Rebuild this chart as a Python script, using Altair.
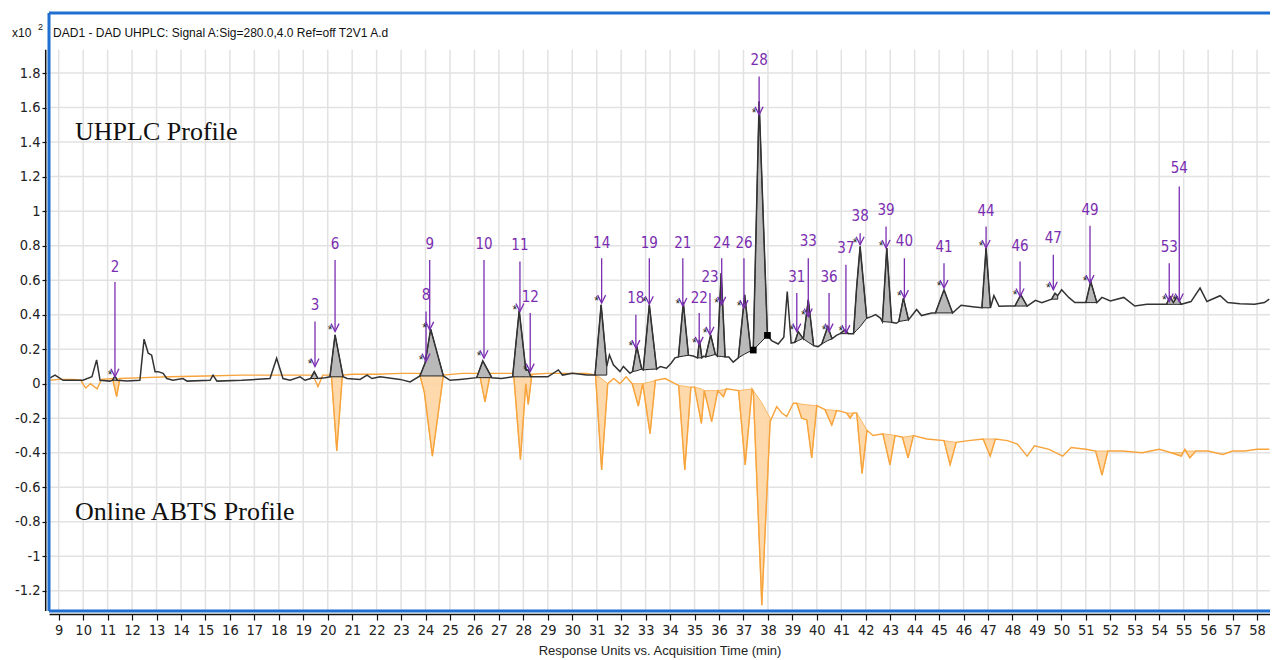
import altair as alt
import pandas as pd

# ---------------- plot ranges (data units) ----------------
X0, X1 = 8.603, 58.53
Y0, Y1 = -1.317, 2.148
GRID_TOP = 1.935

x_ticks = list(range(9, 59))
y_ticks = [1.8, 1.6, 1.4, 1.2, 1, 0.8, 0.6, 0.4, 0.2, 0, -0.2, -0.4, -0.6, -0.8, -1, -1.2]

# ---------------- UHPLC trace (black) ----------------
black_t = [8.6, 8.65, 8.85, 9.18, 9.99, 10.36, 10.55, 10.69, 11.1, 11.2, 11.3, 11.4, 11.79, 12.32, 12.49, 12.66,
           12.8, 12.94, 13.06, 13.27, 13.42, 13.67, 14.08, 14.25, 15.19, 15.31, 15.47, 16.5, 17.64, 17.91, 18.17,
           18.46, 18.87, 19.07, 19.3, 19.45, 19.6, 19.9, 20.09, 20.3, 20.63, 20.79, 21.32, 21.61, 21.81, 22.14,
           22.96, 23.37, 23.77, 23.98, 24.21, 24.73, 25.0, 25.41, 26.09, 26.34, 26.71, 27.1, 27.56, 27.83, 28.1,
           28.2, 28.3, 29.0, 29.43, 29.6, 30.0, 30.6, 30.93, 31.18, 31.41, 31.52, 31.68, 31.95, 32.09, 32.36,
           32.46, 32.64, 32.84, 32.9, 33.15, 33.45, 33.6, 33.85, 34.05, 34.2, 34.34, 34.54, 34.75, 34.95, 35.12,
           35.2, 35.3, 35.38, 35.45, 35.66, 35.85, 35.93, 36.09, 36.25, 36.4, 36.58, 36.79, 37.05, 37.3, 37.4,
           37.64, 37.98, 38.15, 38.42, 38.65, 38.79, 38.95, 39.1, 39.24, 39.4, 39.45, 39.65, 39.87, 40.05, 40.2,
           40.45, 40.62, 40.8, 40.95, 41.15, 41.3, 41.5, 41.63, 41.77, 42.04, 42.25, 42.4, 42.6, 42.68, 42.86,
           43.06, 43.25, 43.35, 43.54, 43.75, 44.08, 44.28, 44.7, 44.85, 45.2, 45.55, 45.9, 46.45, 46.75, 46.92,
           47.1, 47.24, 47.45, 47.8, 48.1, 48.34, 48.6, 48.94, 49.2, 49.6, 49.74, 49.85, 50.01, 50.3, 50.55,
           51.0, 51.2, 51.45, 51.66, 52.0, 52.55, 53.0, 53.5, 54.3, 54.44, 54.58, 54.72, 54.9, 55.3, 55.67,
           55.95, 56.49, 56.8, 57.3, 57.9, 58.3, 58.5]
black_v = [0.03, 0.034, 0.05, 0.02, 0.02, 0.04, 0.138, 0.02, 0.015, 0.02, 0.045, 0.02, 0.015, 0.02, 0.258, 0.177,
           0.165, 0.07, 0.07, 0.06, 0.03, 0.02, 0.03, 0.015, 0.02, 0.05, 0.015, 0.02, 0.03, 0.148, 0.03,
           0.02, 0.04, 0.02, 0.03, 0.07, 0.03, 0.035, 0.04, 0.283, 0.04, 0.03, 0.025, 0.05, 0.03, 0.04,
           0.025, 0.01, 0.045, 0.12, 0.316, 0.045, 0.02, 0.025, 0.035, 0.132, 0.035, 0.03, 0.04, 0.424, 0.08,
           0.08, 0.04, 0.04, 0.08, 0.05, 0.06, 0.05, 0.05, 0.457, 0.1, 0.167, 0.11, 0.07, 0.1, 0.06,
           0.07, 0.215, 0.085, 0.08, 0.457, 0.085, 0.1, 0.09, 0.12, 0.15, 0.155, 0.47, 0.165, 0.16, 0.15,
           0.254, 0.15, 0.16, 0.155, 0.283, 0.17, 0.16, 0.64, 0.155, 0.155, 0.125, 0.15, 0.515, 0.19, 0.195,
           1.635, 0.28, 0.25, 0.23, 0.27, 0.534, 0.235, 0.24, 0.302, 0.27, 0.26, 0.486, 0.22, 0.215, 0.23,
           0.331, 0.26, 0.28, 0.29, 0.312, 0.29, 0.29, 0.563, 0.795, 0.38, 0.39, 0.4, 0.38, 0.36, 0.786,
           0.356, 0.35, 0.36, 0.496, 0.37, 0.43, 0.395, 0.41, 0.41, 0.544, 0.41, 0.455, 0.445, 0.44, 0.786,
           0.44, 0.51, 0.449, 0.45, 0.45, 0.515, 0.45, 0.483, 0.47, 0.49, 0.525, 0.51, 0.544, 0.5, 0.47,
           0.47, 0.592, 0.47, 0.5, 0.48, 0.5, 0.45, 0.46, 0.46, 0.505, 0.47, 0.505, 0.46, 0.476, 0.554,
           0.476, 0.51, 0.47, 0.464, 0.46, 0.47, 0.49]

# ---------------- Online ABTS trace (orange) ----------------
orange_t = [8.6, 9.0, 9.6, 9.9, 10.1, 10.3, 10.57, 10.75, 11.2, 11.37, 11.5, 12.5, 13.5, 15.0, 16.5, 18.5, 19.4,
            19.6, 19.8, 20.15, 20.37, 20.6, 21.0, 22.0, 23.0, 23.75, 23.95, 24.28, 24.73, 25.5, 26.2, 26.43,
            26.65, 27.6, 27.88, 28.1, 28.2, 28.35, 29.0, 30.0, 30.6, 30.95, 31.2, 31.45, 31.7, 31.95, 32.2,
            32.45, 32.7, 32.88, 33.18, 33.4, 33.8, 34.2, 34.35, 34.6, 34.85, 35.0, 35.28, 35.4, 35.7, 35.95,
            36.18, 36.3, 36.8, 37.07, 37.35, 37.4, 37.75, 38.09, 38.36, 38.57, 38.77, 39.04, 39.18, 39.38,
            39.59, 39.79, 40.0, 40.33, 40.61, 40.81, 41.0, 41.22, 41.36, 41.5, 41.63, 41.85, 42.05, 42.3,
            42.7, 42.99, 43.2, 43.5, 43.73, 43.95, 44.5, 45.2, 45.45, 45.7, 46.2, 46.8, 47.09, 47.3, 47.8,
            48.2, 48.6, 48.9, 49.5, 50.05, 50.4, 51.0, 51.4, 51.66, 51.9, 52.5, 53.3, 54.0, 54.5, 54.9,
            55.05, 55.25, 55.5, 56.0, 56.6, 57.0, 57.5, 58.0, 58.5]
orange_v = [0.02, 0.025, 0.025, 0.02, -0.025, 0.0, -0.03, 0.025, 0.03, -0.075, 0.03, 0.035, 0.04, 0.045, 0.05,
            0.05, 0.05, -0.017, 0.05, 0.05, -0.39, 0.05, 0.055, 0.055, 0.06, 0.06, -0.05, -0.42, 0.05, 0.06,
            0.06, -0.105, 0.06, 0.06, -0.44, 0.0, -0.12, 0.055, 0.06, 0.06, 0.06, 0.05, -0.5, 0.0, 0.03, 0.0,
            0.04, 0.0, -0.13, 0.0, -0.29, 0.02, 0.03, 0.0, -0.01, -0.5, -0.02, -0.02, -0.23, -0.04, -0.22,
            -0.04, -0.075, -0.03, -0.04, -0.47, -0.03, -0.04, -1.283, -0.22, -0.133, -0.17, -0.19, -0.113,
            -0.113, -0.2, -0.21, -0.43, -0.127, -0.15, -0.24, -0.155, -0.16, -0.17, -0.2, -0.17, -0.17, -0.52,
            -0.27, -0.3, -0.29, -0.47, -0.3, -0.31, -0.43, -0.3, -0.32, -0.33, -0.47, -0.34, -0.33, -0.32,
            -0.42, -0.32, -0.33, -0.35, -0.42, -0.36, -0.38, -0.42, -0.37, -0.38, -0.39, -0.53, -0.39, -0.39,
            -0.4, -0.38, -0.4, -0.42, -0.38, -0.43, -0.39, -0.39, -0.41, -0.39, -0.39, -0.38, -0.38]

# ---------------- integrated UHPLC peaks (gray fills) ----------------
gray_peak = ["2", "3", "6", "9", "10", "11", "14", "18", "19", "21", "22", "23", "24", "26", "28",
             "31", "33", "36", "37", "38", "39", "40", "41", "44", "46", "47", "49", "53"]
gray_count = [3, 3, 3, 4, 3, 5, 3, 3, 3, 3, 3, 3, 3, 3, 3, 3, 3, 3, 3, 4, 3, 3, 3, 3, 3, 3, 3, 5]
gray_t = [11.2, 11.3, 11.4, 19.3, 19.45, 19.6, 20.09, 20.3, 20.63, 23.77, 23.98, 24.21, 24.73,
          26.09, 26.34, 26.71, 27.56, 27.83, 28.1, 28.2, 28.3, 30.93, 31.18, 31.41,
          32.46, 32.64, 32.84, 32.9, 33.15, 33.45, 34.34, 34.54, 34.75, 35.12, 35.2, 35.3,
          35.45, 35.66, 35.85, 35.93, 36.09, 36.25, 36.79, 37.05, 37.3, 37.4, 37.64, 37.98,
          39.1, 39.24, 39.4, 39.45, 39.65, 39.87, 40.2, 40.45, 40.62, 40.95, 41.15, 41.3,
          41.5, 41.63, 41.77, 42.04, 42.68, 42.86, 43.06, 43.35, 43.54, 43.75, 44.85, 45.2, 45.55,
          46.75, 46.92, 47.1, 48.1, 48.34, 48.6, 49.6, 49.74, 49.85, 51.0, 51.2, 51.45,
          54.3, 54.44, 54.58, 54.72, 54.9]
gray_v = [0.02, 0.045, 0.02, 0.03, 0.07, 0.03, 0.04, 0.283, 0.04, 0.045, 0.12, 0.316, 0.045,
          0.035, 0.132, 0.035, 0.04, 0.424, 0.08, 0.08, 0.04, 0.05, 0.457, 0.1,
          0.07, 0.215, 0.085, 0.08, 0.457, 0.085, 0.155, 0.47, 0.165, 0.15, 0.254, 0.15,
          0.155, 0.283, 0.17, 0.16, 0.64, 0.155, 0.15, 0.515, 0.19, 0.195, 1.635, 0.28,
          0.24, 0.302, 0.27, 0.26, 0.486, 0.22, 0.23, 0.331, 0.26, 0.29, 0.312, 0.29,
          0.29, 0.563, 0.795, 0.38, 0.36, 0.786, 0.356, 0.36, 0.496, 0.37, 0.41, 0.544, 0.41,
          0.44, 0.786, 0.44, 0.45, 0.515, 0.45, 0.49, 0.525, 0.51, 0.47, 0.592, 0.47,
          0.46, 0.505, 0.47, 0.505, 0.46]
gray_b = [0.02, 0.02, 0.02, 0.03, 0.03, 0.03, 0.04, 0.04, 0.04, 0.045, 0.045, 0.045, 0.045,
          0.035, 0.035, 0.035, 0.04, 0.04, 0.04, 0.04, 0.04, 0.05, 0.05, 0.05,
          0.07, 0.075, 0.085, 0.08, 0.083, 0.085, 0.155, 0.16, 0.165, 0.15, 0.15, 0.15,
          0.155, 0.162, 0.17, 0.16, 0.158, 0.155, 0.15, 0.172, 0.19, 0.195, 0.23, 0.28,
          0.24, 0.25, 0.26, 0.26, 0.24, 0.22, 0.23, 0.25, 0.26, 0.29, 0.29, 0.29,
          0.29, 0.31, 0.33, 0.38, 0.36, 0.358, 0.356, 0.36, 0.365, 0.37, 0.41, 0.41, 0.41,
          0.44, 0.44, 0.44, 0.45, 0.45, 0.45, 0.49, 0.49, 0.49, 0.47, 0.47, 0.47,
          0.46, 0.46, 0.46, 0.46, 0.46]

# ---------------- integrated ABTS dips (orange fills) ----------------
orng_peak = ["2", "6", "9", "10", "11", "14", "18", "19", "21", "22", "23", "24", "26", "28",
             "33", "36", "37", "38", "39", "40", "41", "44", "49", "53"]
orng_count = [3, 3, 4, 3, 5, 3, 3, 3, 3, 3, 3, 3, 3, 3, 5, 3, 3, 3, 3, 3, 3, 3, 3, 5]
orng_t = [11.2, 11.37, 11.5, 20.15, 20.37, 20.6, 23.75, 23.95, 24.28, 24.73, 26.2, 26.43, 26.65,
          27.6, 27.88, 28.1, 28.2, 28.35, 30.95, 31.2, 31.45, 32.45, 32.7, 32.88, 32.88, 33.18, 33.4,
          34.35, 34.6, 34.85, 35.0, 35.28, 35.4, 35.4, 35.7, 35.95, 35.95, 36.18, 36.3,
          36.8, 37.07, 37.35, 37.4, 37.75, 38.09, 39.18, 39.38, 39.59, 39.79, 40.0,
          40.33, 40.61, 40.81, 41.22, 41.36, 41.5, 41.63, 41.85, 42.05, 42.7, 42.99, 43.2,
          43.5, 43.73, 43.95, 45.2, 45.45, 45.7, 46.8, 47.09, 47.3, 51.4, 51.66, 51.9,
          54.5, 54.9, 55.05, 55.25, 55.5]
orng_v = [0.03, -0.075, 0.03, 0.05, -0.39, 0.05, 0.06, -0.05, -0.42, 0.05, 0.06, -0.105, 0.06,
          0.06, -0.44, 0.0, -0.12, 0.055, 0.05, -0.5, 0.0, 0.0, -0.13, 0.0, 0.0, -0.29, 0.02,
          -0.01, -0.5, -0.02, -0.02, -0.23, -0.04, -0.04, -0.22, -0.04, -0.04, -0.075, -0.03,
          -0.04, -0.47, -0.03, -0.04, -1.283, -0.22, -0.113, -0.2, -0.21, -0.43, -0.127,
          -0.15, -0.24, -0.155, -0.17, -0.2, -0.17, -0.17, -0.52, -0.27, -0.29, -0.47, -0.3,
          -0.31, -0.43, -0.3, -0.33, -0.47, -0.34, -0.32, -0.42, -0.32, -0.39, -0.53, -0.39,
          -0.4, -0.42, -0.38, -0.43, -0.39]
orng_b = [0.03, 0.03, 0.03, 0.05, 0.05, 0.05, 0.06, 0.058, 0.055, 0.05, 0.06, 0.06, 0.06,
          0.06, 0.06, 0.058, 0.057, 0.055, 0.05, 0.03, 0.0, 0.0, 0.0, 0.0, 0.0, 0.01, 0.02,
          -0.01, -0.015, -0.02, -0.02, -0.03, -0.04, -0.04, -0.04, -0.04, -0.04, -0.035, -0.03,
          -0.04, -0.035, -0.03, -0.04, -0.11, -0.2, -0.113, -0.118, -0.122, -0.125, -0.127,
          -0.15, -0.153, -0.155, -0.17, -0.17, -0.17, -0.17, -0.22, -0.27, -0.29, -0.295, -0.3,
          -0.31, -0.305, -0.3, -0.33, -0.335, -0.34, -0.32, -0.32, -0.32, -0.39, -0.39, -0.39,
          -0.4, -0.4, -0.39, -0.39, -0.39]

# ---------------- integration markers on peak 28 ----------------
marker_t = [37.4, 37.98]
marker_v = [0.195, 0.28]

# ---------------- peak labels ----------------
label_text = ["2", "3", "6", "8", "9", "10", "11", "12", "14", "18", "19", "21", "22", "23", "24", "26", "28",
              "31", "33", "36", "37", "38", "39", "40", "41", "44", "46", "47", "49", "53", "54"]
label_t = [11.30, 19.48, 20.30, 24.02, 24.17, 26.39, 27.86, 28.28, 31.20, 32.60, 33.15, 34.52, 35.19, 35.63,
           36.11, 37.02, 37.64, 39.18, 39.65, 40.50, 41.19, 41.77, 42.83, 43.58, 45.20, 46.92, 48.31, 49.67,
           51.17, 54.41, 54.82]
label_v = [0.675, 0.457, 0.81, 0.515, 0.81, 0.81, 0.805, 0.505, 0.818, 0.496, 0.818, 0.818, 0.496, 0.621,
           0.818, 0.818, 1.877, 0.621, 0.824, 0.621, 0.786, 0.973, 1.008, 0.828, 0.791, 0.998, 0.799, 0.843,
           1.008, 0.791, 1.249]
arrow_top = [0.59, 0.36, 0.717, 0.418, 0.717, 0.717, 0.708, 0.409, 0.727, 0.4, 0.727, 0.727, 0.409, 0.525,
             0.727, 0.727, 1.78, 0.525, 0.727, 0.525, 0.689, 0.872, 0.911, 0.727, 0.698, 0.911, 0.708, 0.747,
             0.915, 0.698, 1.143]
arrow_bot = [0.04, 0.1, 0.302, 0.128, 0.312, 0.148, 0.418, 0.07, 0.467, 0.206, 0.46, 0.45, 0.225, 0.283,
             0.457, 0.438, 1.558, 0.302, 0.389, 0.302, 0.293, 0.805, 0.786, 0.496, 0.554, 0.786, 0.505, 0.544,
             0.583, 0.476, 0.476]

# ---------------- texts ----------------
header_text = "DAD1 - DAD UHPLC: Signal A:Sig=280.0,4.0  Ref=off T2V1 A.d"
profile_text = ["UHPLC Profile", "Online ABTS Profile"]
profile_t = [9.667, 9.667]
profile_v = [1.46, -0.743]

# ================= build tables =================
def expand(ids, counts):
    out = []
    for i, c in zip(ids, counts):
        out += [i] * c
    return out

black_df = pd.DataFrame({"t": black_t, "v": black_v})
orange_df = pd.DataFrame({"t": orange_t, "v": orange_v})
gray_df = pd.DataFrame({"id": expand(gray_peak, gray_count), "t": gray_t, "v": gray_v, "b": gray_b})
orng_df = pd.DataFrame({"id": expand(orng_peak, orng_count), "t": orng_t, "v": orng_v, "b": orng_b})
marker_df = pd.DataFrame({"t": marker_t, "v": marker_v})
label_df = pd.DataFrame({"lab": label_text, "t": label_t, "v": label_v, "top": arrow_top, "bot": arrow_bot})
xgrid_df = pd.DataFrame({"t": x_ticks})
ygrid_df = pd.DataFrame({"v": y_ticks})
profile_df = pd.DataFrame({"txt": profile_text, "t": profile_t, "v": profile_v})
frame_df = pd.DataFrame({"x0": [X0], "x1": [X1], "y0": [Y0], "y1": [Y1], "gt": [GRID_TOP], "ax": [X0 - 0.135]})
corner_df = pd.DataFrame({"txt": ["x10", "2", header_text], "t": [7.09, 8.15, 8.77], "v": [2.03, 2.065, 2.034]})

COND = "'DejaVu Sans Condensed', 'Liberation Sans', sans-serif"
SANS = "'Liberation Sans', Arial, sans-serif"
PURPLE = "#7a2db0"
ORANGE = "#f8a43c"
BLUE = "#1f6fd1"

xs = alt.Scale(domain=[X0, X1], nice=False, zero=False)
ys = alt.Scale(domain=[Y0, Y1], nice=False, zero=False)

AX = alt.Axis(values=x_ticks, labelFont=COND, labelFontSize=14.5, labelColor="#222",
              tickColor="#111", tickSize=6, tickWidth=1.2, domainColor="#111", domainWidth=1.5,
              offset=3, grid=False, labelPadding=3, labelFlush=False,
              title="Response Units vs. Acquisition Time (min)", titleFont=SANS,
              titleFontSize=13, titleFontWeight="normal", titleColor="#222", titlePadding=8)
AY = alt.Axis(values=y_ticks, labelExpr="'' + datum.value", labelFont=COND, labelFontSize=14.5,
              labelColor="#222", tickColor="#111", tickSize=4, tickWidth=1.2, domain=False,
              offset=3, grid=False, labelPadding=2, title=None)


def X(f="t:Q"):
    return alt.X(f, scale=xs, axis=AX)


def Y(f="v:Q"):
    return alt.Y(f, scale=ys, axis=AY)


# gridlines
vgrid = alt.Chart(xgrid_df).mark_rule(color="#e2e2e2", strokeWidth=1.5).encode(
    x=X(), y=Y("gt:Q"), y2="y0:Q").transform_calculate(gt=str(GRID_TOP), y0=str(Y0))
hgrid = alt.Chart(ygrid_df).mark_rule(color="#e2e2e2", strokeWidth=1.5).encode(
    y=Y(), x=X("x0:Q"), x2="x1:Q").transform_calculate(x0=str(X0), x1=str(X1))

# frame (blue) and y axis line
frame_left = alt.Chart(frame_df).mark_rule(color=BLUE, strokeWidth=3, clip=False).encode(
    x=X("x0:Q"), y=Y("y0:Q"), y2="y1:Q")
frame_top = alt.Chart(frame_df).mark_rule(color=BLUE, strokeWidth=3, clip=False).encode(
    y=Y("y1:Q"), x=X("x0:Q"), x2="x1:Q")
frame_bot = alt.Chart(frame_df).mark_rule(color=BLUE, strokeWidth=3, clip=False).encode(
    y=Y("y0:Q"), x=X("x0:Q"), x2="x1:Q")
yaxis_line = alt.Chart(frame_df).mark_rule(color="#111", strokeWidth=1.5, clip=False).encode(
    x=X("ax:Q"), y=Y("y0:Q"), y2="gt:Q")

# fills and traces
orng_fill = alt.Chart(orng_df).mark_area(color="#fdd5a3", opacity=0.9, stroke=ORANGE, strokeWidth=0.8).encode(
    x=X(), y=Y(), y2="b:Q", detail="id:N")
orange_line = alt.Chart(orange_df).mark_line(color=ORANGE, strokeWidth=1.4).encode(x=X(), y=Y())
gray_fill = alt.Chart(gray_df).mark_area(color="#b9b9b9", stroke="#222", strokeWidth=1).encode(
    x=X(), y=Y(), y2="b:Q", detail="id:N")
black_line = alt.Chart(black_df).mark_line(color="#333333", strokeWidth=1.5).encode(x=X(), y=Y())
markers = alt.Chart(marker_df).mark_square(color="black", size=45, opacity=1).encode(x=X(), y=Y())

# annotations
arrows = alt.Chart(label_df).mark_rule(color=PURPLE, strokeWidth=1.3).encode(x=X(), y=Y("top:Q"), y2="bot:Q")
heads = alt.Chart(label_df).mark_point(shape="M -1 -2 L 0 0 L 1 -2", size=64, filled=False,
                                       color=PURPLE, strokeWidth=1.3, opacity=1).encode(x=X(), y=Y("bot:Q"))
stars = alt.Chart(label_df).mark_text(text="*", font=SANS, fontSize=12, color="#222",
                                      dx=-5, dy=-2).encode(x=X(), y=Y("bot:Q"))
labels = alt.Chart(label_df).mark_text(font=COND, fontSize=15, color=PURPLE, baseline="middle").encode(
    x=X(), y=Y(), text="lab:N")

profiles = alt.Chart(profile_df).mark_text(font="'Liberation Serif', 'Times New Roman', serif", fontSize=26,
                                           color="#111", align="left", baseline="middle").encode(
    x=X(), y=Y(), text="txt:N")
corner = alt.Chart(corner_df).mark_text(font=SANS, color="#111",
                                        align="left", baseline="middle", clip=False).encode(
    x=X(), y=Y(), text="txt:N",
    size=alt.condition("datum.txt == '2'", alt.value(9), alt.value(12)))

chart = alt.layer(
    vgrid, hgrid, orng_fill, orange_line, gray_fill, black_line, markers,
    arrows, heads, stars, labels, profiles, corner,
    frame_left, frame_top, frame_bot, yaxis_line
).properties(
    width=1221, height=598,
    autosize=alt.AutoSizeParams(type="none"),
    padding={"left": 41, "top": 5, "right": 0, "bottom": 49},
).configure_view(stroke=None).configure(background="white")

chart.save("out.html", embed_options={"renderer": "svg", "actions": False})
